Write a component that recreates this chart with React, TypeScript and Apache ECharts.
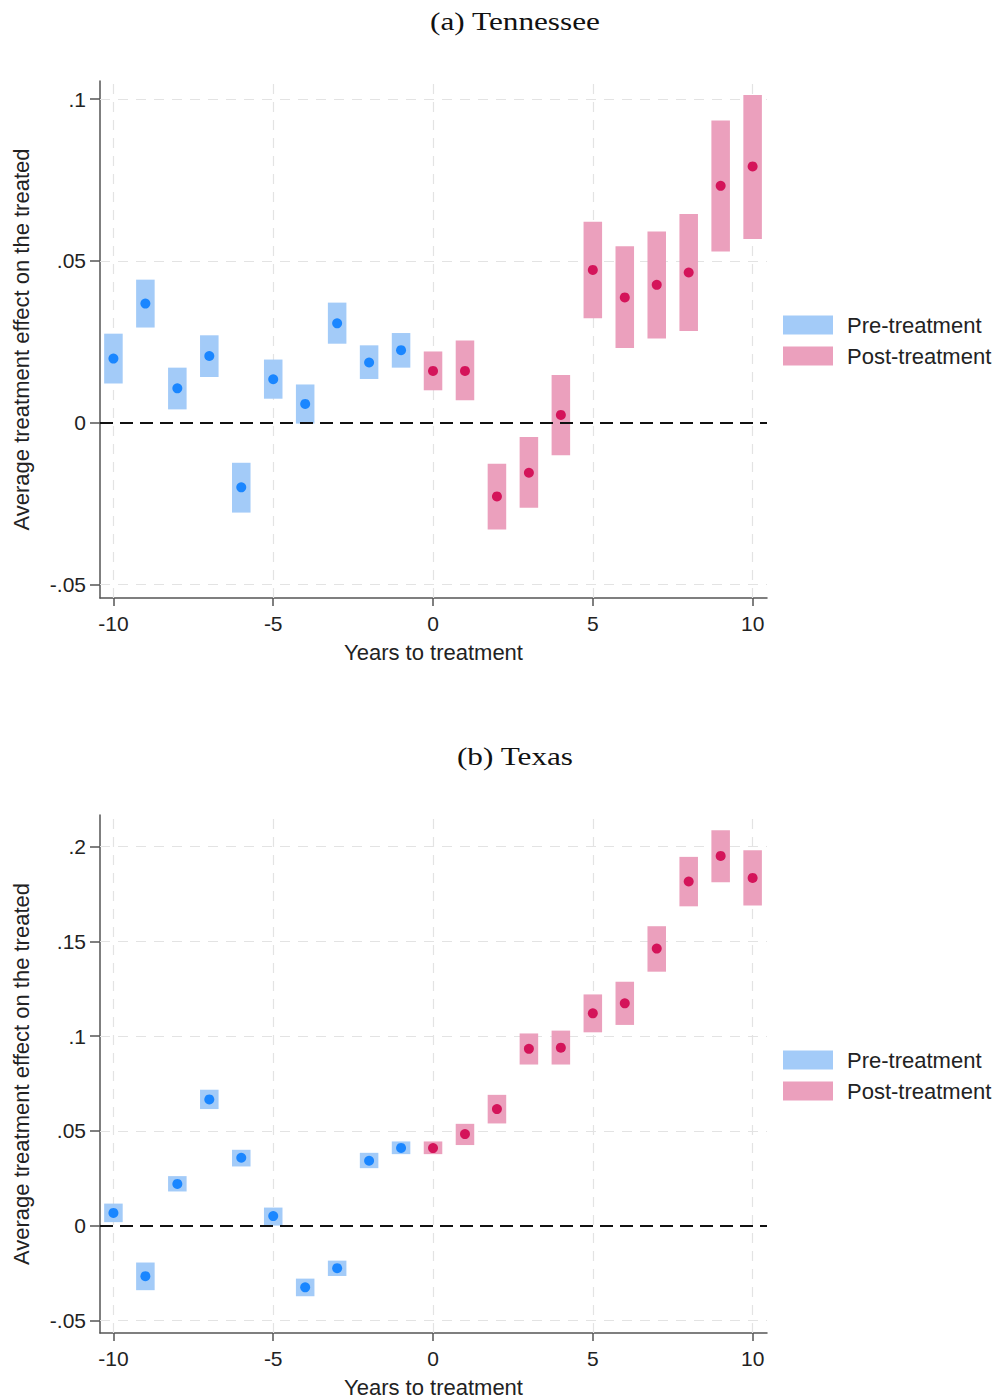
import React, { useEffect, useRef } from "react";
import * as echarts from "echarts";

const years = [-10, -9, -8, -7, -6, -5, -4, -3, -2, -1, 0, 1, 2, 3, 4, 5, 6, 7, 8, 9, 10];

const tnEst = [0.0198, 0.0368, 0.0106, 0.0206, -0.02, 0.0134, 0.0058, 0.0307, 0.0186, 0.0224, 0.016, 0.016, -0.0228, -0.0155, 0.0024, 0.0472, 0.0387, 0.0426, 0.0464, 0.0732, 0.0792];
const tnLo = [0.0121, 0.0294, 0.0041, 0.0141, -0.0278, 0.0074, -0.0003, 0.0244, 0.0135, 0.017, 0.01, 0.0069, -0.033, -0.0263, -0.0101, 0.0323, 0.0231, 0.026, 0.0283, 0.0529, 0.0568];
const tnHi = [0.0275, 0.0442, 0.017, 0.027, -0.0124, 0.0195, 0.0118, 0.0371, 0.0239, 0.0277, 0.022, 0.0254, -0.0127, -0.0044, 0.0147, 0.0621, 0.0545, 0.0591, 0.0645, 0.0934, 0.1013];

const txEst = [0.0067, -0.0267, 0.022, 0.0666, 0.0358, 0.005, -0.0326, -0.0225, 0.0342, 0.041, 0.0409, 0.0483, 0.0615, 0.0933, 0.0939, 0.112, 0.1173, 0.1462, 0.1816, 0.1951, 0.1835];
const txLo = [0.0018, -0.0341, 0.018, 0.0615, 0.0312, 0.0, -0.0373, -0.0266, 0.0303, 0.0377, 0.0377, 0.0425, 0.0539, 0.085, 0.085, 0.102, 0.1059, 0.134, 0.1685, 0.1812, 0.1689];
const txHi = [0.0116, -0.0195, 0.0261, 0.0717, 0.04, 0.0095, -0.028, -0.0185, 0.0384, 0.0444, 0.0444, 0.0537, 0.069, 0.1014, 0.1029, 0.122, 0.1287, 0.158, 0.1946, 0.2087, 0.1981];

const xTicks = [-10, -5, 0, 5, 10];
const tnTicks = [-0.05, 0, 0.05, 0.1];
const txTicks = [-0.05, 0, 0.05, 0.1, 0.15, 0.2];
const titles = ["(a) Tennessee", "(b) Texas"];
const legendNames = ["Pre-treatment", "Post-treatment"];
const xName = "Years to treatment";
const yName = "Average treatment effect on the treated";

const BLUE_BAR = "#a3cbf8";
const BLUE_DOT = "#1a86ff";
const PINK_BAR = "#eba0bd";
const PINK_DOT = "#d4145a";
const HALF_W = 0.29;

function fmtTick(v: number): string {
  if (v === 0) return "0";
  const s = String(v);
  return s.replace("0.", ".");
}

function panelSeries(idx: number, est: number[], lo: number[], hi: number[], yTicks: number[]) {
  const pre: number[][] = [];
  const post: number[][] = [];
  const preDots: number[][] = [];
  const postDots: number[][] = [];
  years.forEach((y, i) => {
    if (y < 0) {
      pre.push([y, lo[i], hi[i]]);
      preDots.push([y, est[i]]);
    } else {
      post.push([y, lo[i], hi[i]]);
      postDots.push([y, est[i]]);
    }
  });
  const rectRender = (color: string) => (params: any, api: any) => {
    const x = api.value(0);
    const l = api.value(1);
    const h = api.value(2);
    const p1 = api.coord([x - HALF_W, h]);
    const p2 = api.coord([x + HALF_W, l]);
    return {
      type: "rect",
      shape: { x: p1[0], y: p1[1], width: p2[0] - p1[0], height: p2[1] - p1[1] },
      style: { fill: color },
    };
  };
  const axes = { xAxisIndex: idx, yAxisIndex: idx };
  return [
    {
      type: "line",
      ...axes,
      data: [[0, 0]],
      symbol: "none",
      lineStyle: { opacity: 0 },
      silent: true,
      z: 1,
      markLine: {
        silent: true,
        z: 1,
        symbol: "none",
        label: { show: false },
        lineStyle: { type: [10, 8], color: "#e3e3e3", width: 1.2 },
        data: [
          ...yTicks.filter((v) => v !== 0).map((v) => ({ yAxis: v })),
          ...xTicks.map((v) => ({ xAxis: v })),
        ],
      },
    },
    {
      type: "custom",
      name: legendNames[0],
      ...axes,
      renderItem: rectRender(BLUE_BAR),
      itemStyle: { color: BLUE_BAR },
      encode: { x: 0, y: [1, 2] },
      data: pre,
      z: 2,
    },
    {
      type: "custom",
      name: legendNames[1],
      ...axes,
      renderItem: rectRender(PINK_BAR),
      itemStyle: { color: PINK_BAR },
      encode: { x: 0, y: [1, 2] },
      data: post,
      z: 2,
    },
    {
      type: "line",
      ...axes,
      data: [[0, 0]],
      symbol: "none",
      lineStyle: { opacity: 0 },
      silent: true,
      z: 3,
      markLine: {
        silent: true,
        z: 3,
        symbol: "none",
        label: { show: false },
        lineStyle: { type: [13, 7], color: "#111", width: 2 },
        data: [{ yAxis: 0 }],
      },
    },
    {
      type: "scatter",
      name: "pre-est",
      ...axes,
      symbolSize: 10,
      itemStyle: { color: BLUE_DOT, opacity: 1 },
      data: preDots,
      z: 4,
    },
    {
      type: "scatter",
      name: "post-est",
      ...axes,
      symbolSize: 10,
      itemStyle: { color: PINK_DOT, opacity: 1 },
      data: postDots,
      z: 4,
    },
  ];
}

const FONT = "Liberation Sans";

function makeXAxis(idx: number) {
  return {
    type: "value",
    gridIndex: idx,
    min: -10.42,
    max: 10.45,
    name: xName,
    nameLocation: "middle",
    nameGap: 43,
    nameTextStyle: { fontSize: 22, color: "#222", fontFamily: FONT },
    axisLine: { show: true, onZero: false, lineStyle: { color: "#555", width: 1.5 } },
    axisTick: { show: true, length: 8, customValues: xTicks, lineStyle: { color: "#555", width: 1.5 } },
    axisLabel: {
      customValues: xTicks,
      fontSize: 21,
      color: "#222",
      fontFamily: FONT,
      margin: 15,
      formatter: (v: number) => String(v),
    },
    splitLine: { show: false },
  };
}

function makeYAxis(idx: number, min: number, max: number, ticks: number[]) {
  return {
    type: "value",
    gridIndex: idx,
    min,
    max,
    name: yName,
    nameLocation: "middle",
    nameGap: 68,
    nameRotate: 90,
    nameTextStyle: { fontSize: 22, color: "#222", fontFamily: FONT },
    axisLine: { show: true, onZero: false, lineStyle: { color: "#555", width: 1.5 } },
    axisTick: { show: true, length: 10, customValues: ticks, lineStyle: { color: "#555", width: 1.5 } },
    axisLabel: {
      customValues: ticks,
      fontSize: 21,
      color: "#222",
      fontFamily: FONT,
      margin: 14,
      formatter: (v: number) => fmtTick(v),
    },
    splitLine: { show: false },
  };
}

function makeLegend(top: number) {
  return {
    orient: "vertical",
    left: 783,
    top,
    padding: 0,
    itemWidth: 50,
    itemHeight: 19,
    itemGap: 9,
    icon: "rect",
    selectedMode: false,
    data: legendNames,
    textStyle: { fontSize: 22, color: "#222", fontFamily: FONT, padding: [0, 0, 0, 9] },
  };
}

function titleText(text: string, y: number) {
  return {
    type: "text",
    x: 515,
    y,
    scaleX: 1.25,
    style: {
      text,
      fontSize: 25,
      fontFamily: "Liberation Serif",
      fill: "#111",
      align: "center",
      verticalAlign: "middle",
    },
  };
}

export default function App() {
  const ref = useRef<HTMLDivElement>(null);
  useEffect(() => {
    if (!ref.current) return;
    const chart = echarts.init(ref.current, undefined, { renderer: "svg" });
    chart.setOption({
      animation: false,
      backgroundColor: "#ffffff",
      grid: [
        { left: 100, top: 81, width: 667, height: 517 },
        { left: 100, top: 815, width: 667, height: 518 },
      ],
      xAxis: [makeXAxis(0), makeXAxis(1)],
      yAxis: [makeYAxis(0, -0.0542, 0.1056, tnTicks), makeYAxis(1, -0.0567, 0.2167, txTicks)],
      legend: [makeLegend(314), makeLegend(1049)],
      graphic: [titleText(titles[0], 22), titleText(titles[1], 757)],
      series: [
        ...panelSeries(0, tnEst, tnLo, tnHi, tnTicks),
        ...panelSeries(1, txEst, txLo, txHi, txTicks),
      ],
    });
    return () => chart.dispose();
  }, []);
  return (
    <div
      ref={ref}
      style={{ position: "absolute", left: 0, top: 0, width: 995, height: 1399, background: "#fff" }}
    />
  );
}
